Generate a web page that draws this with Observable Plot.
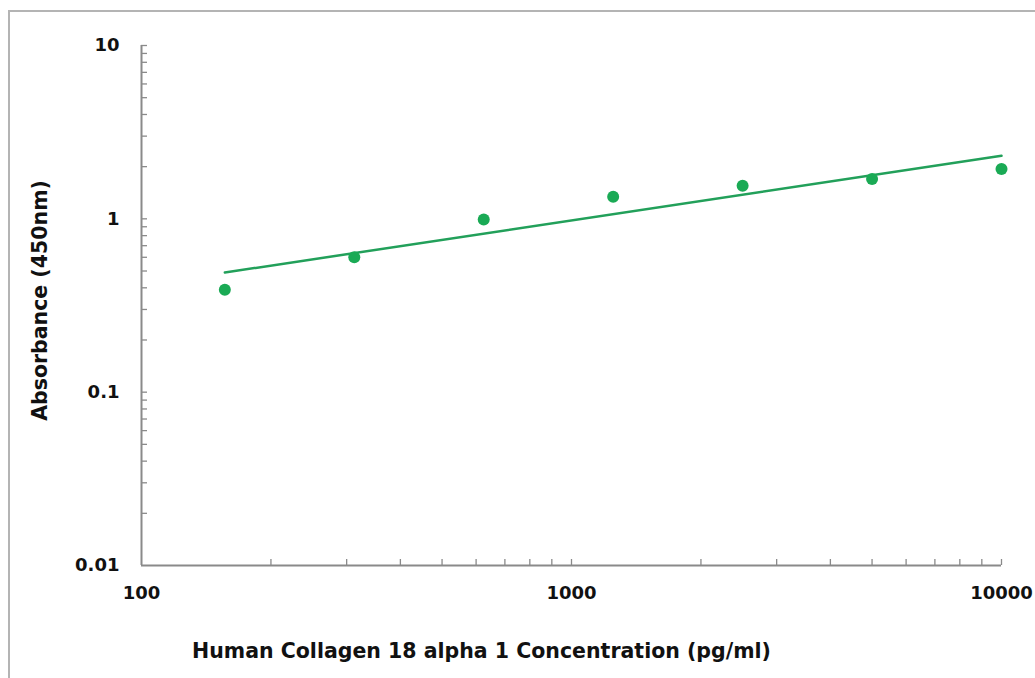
<!DOCTYPE html>
<html>
<head>
<meta charset="utf-8">
<script src="https://cdn.jsdelivr.net/npm/d3@7"></script>
<script src="https://cdn.jsdelivr.net/npm/@observablehq/plot@0.6"></script>
<style>
  body { margin: 0; background: #fff; }
  #wrap { position: relative; width: 1035px; height: 678px; overflow: hidden; }
  #border { position: absolute; left: 8px; top: 10px; width: 1100px; height: 760px;
            border-left: 2px solid #b4b4b4; border-top: 2px solid #b4b4b4; pointer-events: none; }
</style>
</head>
<body>
<div id="wrap"><div id="border"></div></div>
<script>
// Data
const concentrations = [156.25, 312.5, 625, 1250, 2500, 5000, 10000];
const absorbance = [0.39, 0.60, 0.99, 1.34, 1.55, 1.70, 1.94];
const trendX = [156.25, 10000];
const trendY = [0.49, 2.31];
const yTickLabels = [0.01, 0.1, 1, 10];
const xTickLabels = [100, 1000, 10000];
const yMinorTicks = [0.02,0.03,0.04,0.05,0.06,0.07,0.08,0.09,0.1,0.2,0.3,0.4,0.5,0.6,0.7,0.8,0.9,1,2,3,4,5,6,7,8,9,10];
const xMinorTicks = [200,300,400,500,600,700,800,900,1000,2000,3000,4000,5000,6000,7000,8000,9000,10000];
const xTitle = "Human Collagen 18 alpha 1 Concentration (pg/ml)";
const yTitle = "Absorbance (450nm)";

const points = concentrations.map((c, i) => ({x: c, y: absorbance[i]}));
const trend = trendX.map((x, i) => ({x, y: trendY[i]}));

const W = 1035, H = 678;
const mL = 141, mR = 34, mT = 45, mB = 113;
const pw = W - mL - mR, ph = H - mT - mB;
const axisGray = "#8a8a8a";

const chart = Plot.plot({
  width: W,
  height: H,
  marginLeft: mL,
  marginRight: mR,
  marginTop: mT,
  marginBottom: mB,
  style: {fontFamily: "'DejaVu Sans', sans-serif", background: "transparent", overflow: "visible"},
  x: {type: "log", domain: [100, 10000]},
  y: {type: "log", domain: [0.01, 10]},
  marks: [
    // minor / major ticks pointing inward
    Plot.tickY(yMinorTicks, {y: d => d, insetRight: pw - 6, stroke: axisGray, strokeWidth: 1.3}),
    Plot.tickX(xMinorTicks, {x: d => d, insetTop: ph - 6, stroke: axisGray, strokeWidth: 1.3}),
    // axis lines
    Plot.ruleX([100], {stroke: axisGray, strokeWidth: 2}),
    Plot.ruleY([0.01], {stroke: axisGray, strokeWidth: 2}),
    // tick labels
    Plot.axisY({ticks: yTickLabels, tickSize: 0, tickPadding: 22, tickFormat: d => String(d),
      fontSize: 18, fontWeight: "bold", fill: "#111", label: null}),
    Plot.axisX({ticks: xTickLabels, tickSize: 0, tickPadding: 21, tickFormat: d => String(d),
      fontSize: 18, fontWeight: "bold", fill: "#111", label: null}),
    // trend line
    Plot.line(trend, {x: "x", y: "y", stroke: "#22a05a", strokeWidth: 2.5}),
    // data points
    Plot.dot(points, {x: "x", y: "y", r: 6, fill: "#1aaa55", stroke: "none"}),
    // axis titles
    Plot.text([xTitle], {frameAnchor: "bottom", text: d => d, dy: 92, dx: -90, fontSize: 20.5, fontWeight: "bold", fill: "#111"}),
    Plot.text([yTitle], {frameAnchor: "left", text: d => d, textAnchor: "middle", dx: -101, dy: -5, rotate: -90, fontSize: 20.5, fontWeight: "bold", fill: "#111"})
  ]
});
document.getElementById("wrap").appendChild(chart);
</script>
</body>
</html>
